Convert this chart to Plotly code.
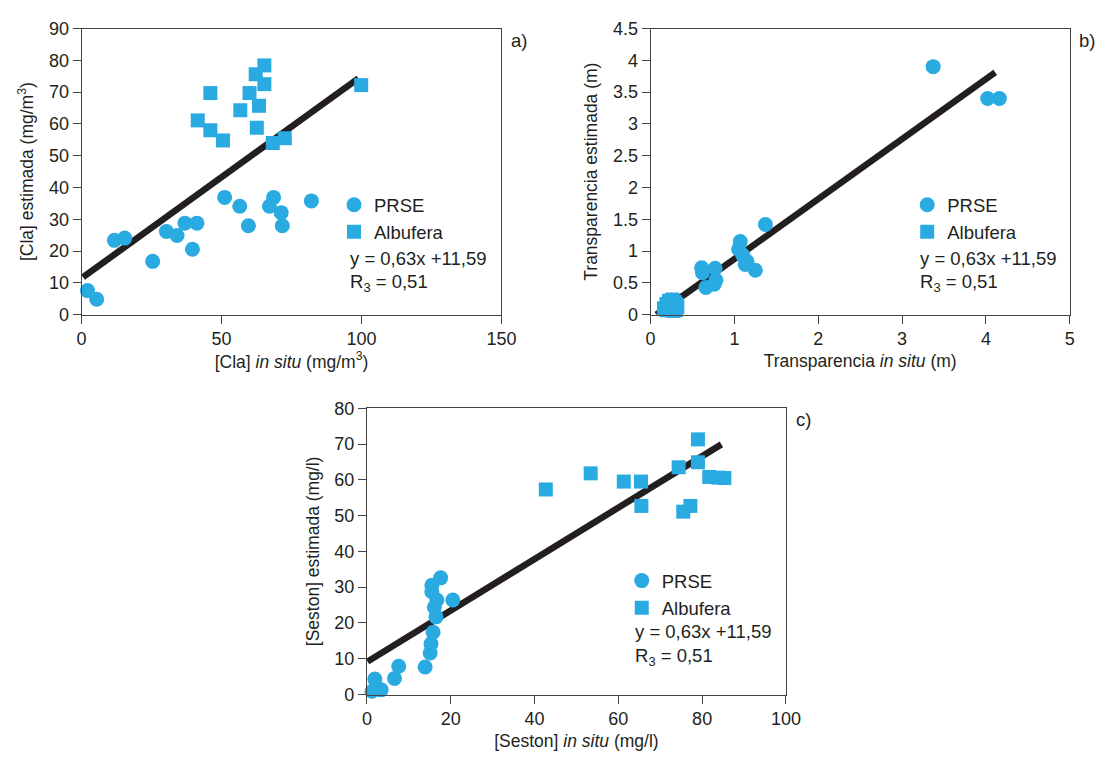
import plotly.graph_objects as go

W, H = 1115, 760

# ---------------- data ----------------
# Panel a) [Cla]
a_prse_x = [2.1, 5.4, 11.7, 15.4, 25.4, 30.3, 34.1, 36.9, 41.2, 39.6, 51.1, 56.5, 59.6, 67.1, 68.6, 71.3, 71.7, 82.1]
a_prse_y = [7.6, 4.9, 23.4, 24.1, 16.8, 26.2, 24.9, 28.8, 28.8, 20.6, 36.9, 34.1, 28.0, 34.1, 36.9, 32.1, 28.0, 35.8]
a_alb_x = [41.5, 46.0, 46.0, 50.5, 56.7, 60.0, 62.2, 65.3, 65.3, 63.4, 62.6, 68.3, 72.6, 99.9]
a_alb_y = [61.1, 69.7, 58.0, 54.8, 64.3, 69.7, 75.6, 78.4, 72.5, 65.7, 58.8, 54.0, 55.5, 72.2]
a_fit_x = [0.5, 98.9]
a_fit_y = [11.8, 74.3]

# Panel b) Transparencia
b_prse_x = [3.37, 4.02, 4.16, 1.37, 1.07, 1.05, 1.10, 1.15, 1.13, 1.25, 0.61, 0.62, 0.77, 0.78, 0.66, 0.76]
b_prse_y = [3.90, 3.40, 3.40, 1.42, 1.15, 1.03, 0.94, 0.84, 0.79, 0.70, 0.74, 0.66, 0.73, 0.545, 0.43, 0.48]
b_alb_x = [0.16, 0.19, 0.22, 0.22, 0.26, 0.29, 0.25, 0.31, 0.24, 0.28, 0.32, 0.19, 0.27, 0.30]
b_alb_y = [0.10, 0.17, 0.12, 0.22, 0.24, 0.20, 0.15, 0.16, 0.08, 0.10, 0.12, 0.07, 0.06, 0.07]
b_fit_x = [0.07, 4.11]
b_fit_y = [0.0, 3.81]

# Panel c) Seston
c_prse_x = [1.2, 1.9, 3.4, 6.6, 7.6, 13.9, 15.1, 15.3, 15.8, 16.5, 16.1, 16.7, 15.5, 15.5, 17.6, 20.5]
c_prse_y = [0.9, 4.3, 1.3, 4.5, 7.9, 7.7, 11.6, 14.2, 17.4, 21.7, 24.4, 26.4, 28.7, 30.5, 32.6, 26.4]
c_alb_x = [42.7, 53.4, 61.3, 65.4, 65.5, 74.4, 75.5, 77.2, 79.0, 79.0, 81.7, 83.9, 85.3]
c_alb_y = [57.3, 61.8, 59.5, 59.5, 52.7, 63.5, 51.1, 52.7, 71.3, 64.9, 60.8, 60.6, 60.5]
c_fit_x = [0.16, 84.6]
c_fit_y = [9.2, 69.9]

series_names = ["PRSE", "Albufera"]
eq_text = "y = 0,63x +11,59"
r_text = "R<sub>3</sub> = 0,51"
panel_labels = ["a)", "b)", "c)"]

x_titles = ["[Cla] <i>in situ</i> (mg/m<sup>3</sup>)",
            "Transparencia <i>in situ</i> (m)",
            "[Seston] <i>in situ</i> (mg/l)"]
y_titles = ["[Cla] estimada (mg/m<sup>3</sup>)",
            "Transparencia estimada (m)",
            "[Seston] estimada (mg/l)"]
x_ranges = [[0, 150], [0, 5], [0, 100]]
x_dticks = [50, 1, 20]
y_ranges = [[0, 90], [0, 4.5], [0, 80]]
y_dticks = [10, 0.5, 10]

# ---------------- style ----------------
FONT = "Liberation Sans, Arial, Helvetica, sans-serif"
TXT = "#231f20"
BLUE = "#29abe2"
AX = "#444444"
TICK_SIZE = 18
TITLE_SIZE = 17.5
NOTE_SIZE = 18.5


def px_x(p):
    return p / W


def px_y(p):
    return 1 - p / H


# plot areas in pixels (left, right, top, bottom)
boxes = [(78, 505.5, 19, 313), (657.3, 1084.3, 19, 313), (368.5, 795.2, 409, 703)]

fig = go.Figure()

panels = [
    (a_prse_x, a_prse_y, a_alb_x, a_alb_y, a_fit_x, a_fit_y),
    (b_prse_x, b_prse_y, b_alb_x, b_alb_y, b_fit_x, b_fit_y),
    (c_prse_x, c_prse_y, c_alb_x, c_alb_y, c_fit_x, c_fit_y),
]
legend_ids = ["legend", "legend2", "legend3"]

for i, (px_, py_, ax_, ay_, fx, fy) in enumerate(panels):
    sx = "" if i == 0 else str(i + 1)
    xa, ya = "x" + sx, "y" + sx
    fig.add_trace(go.Scatter(x=fx, y=fy, mode="lines", xaxis=xa, yaxis=ya,
                             line=dict(color=TXT, width=6.5), showlegend=False,
                             cliponaxis=False, hoverinfo="skip"))
    fig.add_trace(go.Scatter(x=px_, y=py_, mode="markers", xaxis=xa, yaxis=ya,
                             name=series_names[0], legend=legend_ids[i],
                             marker=dict(symbol="circle", size=15, color=BLUE),
                             cliponaxis=False))
    fig.add_trace(go.Scatter(x=ax_, y=ay_, mode="markers", xaxis=xa, yaxis=ya,
                             name=series_names[1], legend=legend_ids[i],
                             marker=dict(symbol="square", size=14, color=BLUE),
                             cliponaxis=False))

layout = dict(
    width=W, height=H,
    margin=dict(l=0, r=0, t=0, b=0),
    paper_bgcolor="white", plot_bgcolor="white",
    font=dict(family=FONT, size=NOTE_SIZE, color=TXT),
    annotations=[],
)

axis_common = dict(showgrid=False, zeroline=False, showline=True, mirror=True,
                   linecolor=AX, linewidth=1, ticks="outside", ticklen=8,
                   tickcolor=AX, tickwidth=1,
                   tickfont=dict(family=FONT, size=TICK_SIZE, color=TXT))

label_x = [513, 1092, 803]
for i, (l, r, t, b) in enumerate(boxes):
    sx = "" if i == 0 else str(i + 1)
    layout["xaxis" + sx] = dict(axis_common, domain=[px_x(l), px_x(r)],
                                range=x_ranges[i], dtick=x_dticks[i], tick0=0,
                                anchor="y" + sx,
                                title=dict(text=x_titles[i], standoff=6,
                                           font=dict(family=FONT, size=TITLE_SIZE, color=TXT)))
    layout["yaxis" + sx] = dict(axis_common, domain=[px_y(b), px_y(t)],
                                range=y_ranges[i], dtick=y_dticks[i], tick0=0,
                                anchor="x" + sx,
                                title=dict(text=y_titles[i], standoff=10,
                                           font=dict(family=FONT, size=TITLE_SIZE, color=TXT)))
    layout["annotations"].append(dict(text=panel_labels[i], xref="paper", yref="paper",
                                      x=px_x(label_x[i]), y=px_y(t + 12), xanchor="left",
                                      yanchor="middle", showarrow=False,
                                      font=dict(family=FONT, size=NOTE_SIZE, color=TXT)))

# legends and equation text positions (pixels)
leg_pos = [(335, 181), (918.7, 181), (628, 567)]
eq_pos = [(349, 255, 280), (930, 255, 280), (639, 638, 664)]
for i in range(3):
    lx, ly = leg_pos[i]
    layout[legend_ids[i]] = dict(x=px_x(lx), y=px_y(ly), xanchor="left", yanchor="top",
                                 xref="paper", yref="paper",
                                 bgcolor="rgba(0,0,0,0)", borderwidth=0,
                                 font=dict(family=FONT, size=NOTE_SIZE, color=TXT),
                                 itemwidth=30, tracegroupgap=0)
    ex, ey1, ey2 = eq_pos[i]
    layout["annotations"].append(dict(text=eq_text, xref="paper", yref="paper",
                                      x=px_x(ex), y=px_y(ey1), xanchor="left",
                                      yanchor="middle", showarrow=False,
                                      font=dict(family=FONT, size=NOTE_SIZE, color=TXT)))
    layout["annotations"].append(dict(text=r_text, xref="paper", yref="paper",
                                      x=px_x(ex), y=px_y(ey2), xanchor="left",
                                      yanchor="middle", showarrow=False,
                                      font=dict(family=FONT, size=NOTE_SIZE, color=TXT)))

fig.update_layout(**layout)
fig.write_html("out.html")
